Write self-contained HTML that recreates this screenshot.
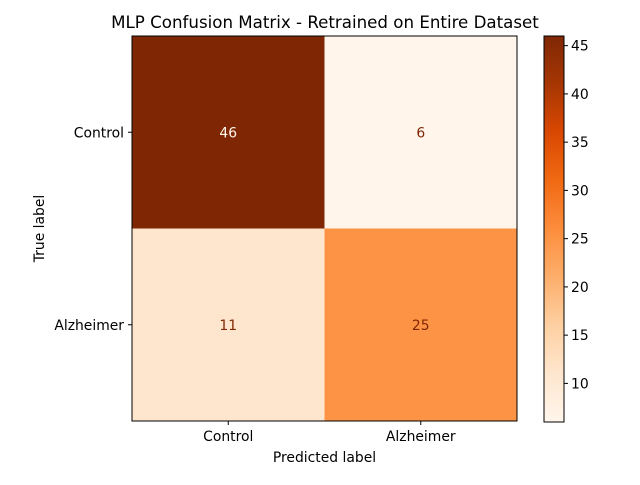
<!DOCTYPE html>
<html><head><meta charset="utf-8"><style>
body{margin:0;background:#fff;}
svg text{font-family:"DejaVu Sans","Liberation Sans",sans-serif;}
</style></head><body>
<svg id="chart" width="640" height="480" xmlns="http://www.w3.org/2000/svg">
<defs><linearGradient id="cbg" x1="0" y1="1" x2="0" y2="0"></linearGradient></defs>
<text x="325" y="28" font-size="16.67" text-anchor="middle" fill="#000">MLP Confusion Matrix - Retrained on Entire Dataset</text>
<g id="cells"></g>
<g id="axes"></g>
<g id="cbar"></g>
</svg>
<script>
const classes = ["Control", "Alzheimer"];
const matrix = [[46, 6], [11, 25]];
const cbTicks = [10, 15, 20, 25, 30, 35, 40, 45];
const vmin = 6, vmax = 46;

const NS = "http://www.w3.org/2000/svg";
const FS = 13.9;
const stops = ["#fff5eb","#fee6ce","#fdd0a2","#fdae6b","#fd8d3c","#f16913","#d94801","#a63603","#7f2704"];
function hex(h){return [1,3,5].map(i=>parseInt(h.substr(i,2),16));}
function cmap(t){t=Math.max(0,Math.min(1,t));const p=t*8,i=Math.min(7,Math.floor(p)),f=p-i;const a=hex(stops[i]),b=hex(stops[i+1]);return "rgb("+a.map((v,k)=>Math.round(v+(b[k]-v)*f)).join(",")+")";}
function mk(tag,attrs,parent,txt){const e=document.createElementNS(NS,tag);for(const k in attrs)e.setAttribute(k,attrs[k]);if(txt!==undefined)e.textContent=txt;parent.appendChild(e);return e;}

const ax={x0:132,y0:36,w:385,h:385};
const n=classes.length, cw=ax.w/n, ch=ax.h/n;
const xPos=j=>ax.x0+cw*(j+0.5), yPos=i=>ax.y0+ch*(i+0.5);
const cells=document.getElementById("cells"), axes=document.getElementById("axes"), cbar=document.getElementById("cbar");

matrix.forEach((row,i)=>row.forEach((v,j)=>{
  const t=(v-vmin)/(vmax-vmin);
  const r=mk("rect",{x:ax.x0+cw*j,y:ax.y0+ch*i,width:cw,height:ch,fill:cmap(t)},cells);
  
  
  const tx=mk("text",{x:xPos(j),y:yPos(i)+5,"font-size":FS,"text-anchor":"middle",fill:t>0.5?"#fff5eb":"#7f2704"},cells,String(v));
  
  
}));
const frame=mk("rect",{x:ax.x0,y:ax.y0,width:ax.w,height:ax.h,fill:"none",stroke:"#000","stroke-width":1},axes);


classes.forEach((c,k)=>{
  mk("line",{x1:xPos(k),x2:xPos(k),y1:ax.y0+ax.h,y2:ax.y0+ax.h+4,stroke:"#000"},axes);
  const xl=mk("text",{x:xPos(k),y:ax.y0+ax.h+20,"font-size":FS,"text-anchor":"middle"},axes,c);
  
  
  mk("line",{x1:ax.x0-4,x2:ax.x0,y1:yPos(k),y2:yPos(k),stroke:"#000"},axes);
  const yl=mk("text",{x:ax.x0-8,y:yPos(k)+5,"font-size":FS,"text-anchor":"end"},axes,c);
  
  
});
const xt=mk("text",{x:ax.x0+ax.w/2,y:462,"font-size":FS,"text-anchor":"middle"},axes,"Predicted label");


const yt=mk("text",{x:44,y:ax.y0+ax.h/2,"font-size":FS,"text-anchor":"middle",transform:"rotate(-90 44 "+(ax.y0+ax.h/2)+")"},axes,"True label");



// colorbar
const cb={x:544,y:36,w:20,h:386};
const g=document.getElementById("cbg");
for(let k=0;k<=16;k++){mk("stop",{offset:k/16,"stop-color":cmap(k/16)},g);}
const cbr=mk("rect",{x:cb.x,y:cb.y,width:cb.w,height:cb.h,fill:"url(#cbg)",stroke:"#000","stroke-width":1},cbar);


const cbY=v=>cb.y+cb.h-(v-vmin)/(vmax-vmin)*cb.h;
cbTicks.forEach(v=>{
  mk("line",{x1:cb.x+cb.w,x2:cb.x+cb.w+4,y1:cbY(v),y2:cbY(v),stroke:"#000"},cbar);
  const t=mk("text",{x:cb.x+cb.w+7,y:cbY(v)+5,"font-size":FS},cbar,String(v));
  
  
});
</script>
</body></html>
